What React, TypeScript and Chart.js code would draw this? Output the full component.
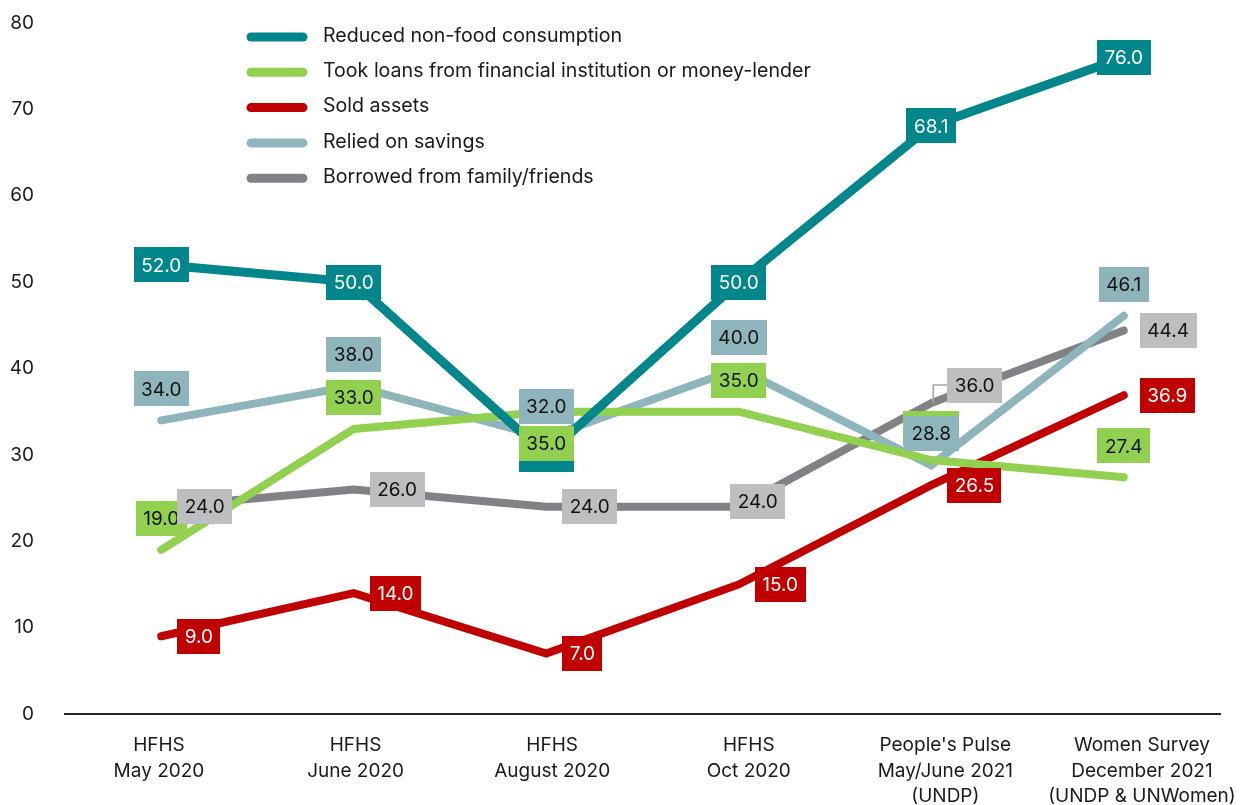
import React, { useEffect, useRef } from 'react';
import { Chart, registerables } from 'chart.js';

Chart.register(...registerables);

const FONT = 'Inter, Roboto, sans-serif';

const categories = [
  'HFHS May 2020',
  'HFHS June 2020',
  'HFHS August 2020',
  'HFHS Oct 2020',
  "People's Pulse May/June 2021 (UNDP)",
  'Women Survey December 2021 (UNDP & UNWomen)',
];

const categoryLabelLines = [
  ['HFHS', 'May 2020'],
  ['HFHS', 'June 2020'],
  ['HFHS', 'August 2020'],
  ['HFHS', 'Oct 2020'],
  ["People's Pulse", 'May/June 2021', '(UNDP)'],
  ['Women Survey', 'December 2021', '(UNDP & UNWomen)'],
];

const seriesNames = [
  'Reduced non-food consumption',
  'Took loans from financial institution or money-lender',
  'Sold assets',
  'Relied on savings',
  'Borrowed from family/friends',
];

const reducedNonFood = [52.0, 50.0, 30.0, 50.0, 68.1, 76.0];
const tookLoans = [19.0, 33.0, 35.0, 35.0, 29.4, 27.4];
const soldAssets = [9.0, 14.0, 7.0, 15.0, 26.5, 36.9];
const reliedSavings = [34.0, 38.0, 32.0, 40.0, 28.8, 46.1];
const borrowedFamily = [24.0, 26.0, 24.0, 24.0, 36.0, 44.4];

const yTicks = [0, 10, 20, 30, 40, 50, 60, 70, 80];

const seriesData = [reducedNonFood, tookLoans, soldAssets, reliedSavings, borrowedFamily];
const lineColors = ['#00868b', '#92d050', '#c00000', '#8fb5bc', '#808285'];
const labelBg = ['#00868b', '#92d050', '#c00000', '#8fb5bc', '#bcbec0'];
const labelFg = ['#ffffff', '#111111', '#ffffff', '#111111', '#111111'];
// 'covered' = label box drawn but its text sits under another label
const labelPlacement = [
  ['center', 'center', 'covered', 'center', 'center', 'center'],
  ['above', 'above', 'below', 'above', 'above', 'above'],
  ['right', 'right', 'right', 'right', 'right', 'right'],
  ['above', 'above', 'above', 'above', 'above', 'above'],
  ['right', 'right', 'right', 'shift', 'leader', 'right'],
];

const boxLabelPlugin = {
  id: 'boxLabels',
  afterDatasetsDraw(chart: any) {
    const ctx = chart.ctx;
    ctx.save();
    ctx.font = `19px ${FONT}`;
    ctx.textAlign = 'center';
    ctx.textBaseline = 'middle';
    chart.data.datasets.forEach((ds: any, di: number) => {
      const meta = chart.getDatasetMeta(di);
      meta.data.forEach((pt: any, i: number) => {
        const v = ds.data[i] as number;
        const text = v.toFixed(1);
        const tw = ctx.measureText(text).width;
        const w = tw + 15;
        const h = 35;
        const place = labelPlacement[di][i];
        let cx = pt.x;
        let cy = pt.y;
        if (place === 'above') cy -= 31.5;
        else if (place === 'below') cy += 32;
        else if (place === 'right') cx += 16 + w / 2;
        else if (place === 'shift') {
          cx += 19;
          cy -= 5;
        } else if (place === 'leader') {
          cx += 16 + w / 2;
          cy -= 18;
          ctx.strokeStyle = '#a6a6a6';
          ctx.lineWidth = 1.5;
          ctx.beginPath();
          ctx.moveTo(cx - w / 2, cy);
          ctx.lineTo(pt.x + 2, cy);
          ctx.lineTo(pt.x + 2, pt.y);
          ctx.stroke();
        }
        ctx.fillStyle = labelBg[di];
        ctx.fillRect(Math.round(cx - w / 2), Math.round(cy - h / 2), Math.round(w), h);
        if (place !== 'covered') {
          ctx.fillStyle = labelFg[di];
          ctx.fillText(text, cx, cy + 1);
        }
      });
    });
    ctx.restore();
  },
};

const legendPlugin = {
  id: 'customLegend',
  afterDraw(chart: any) {
    const ctx = chart.ctx;
    ctx.save();
    ctx.font = `19.6px ${FONT}`;
    ctx.textAlign = 'left';
    ctx.textBaseline = 'middle';
    chart.data.datasets.forEach((ds: any, i: number) => {
      const y = 36 + i * 35.3;
      ctx.strokeStyle = ds.borderColor;
      ctx.lineWidth = 9;
      ctx.lineCap = 'round';
      ctx.beginPath();
      ctx.moveTo(251, y + 1);
      ctx.lineTo(303, y + 1);
      ctx.stroke();
      ctx.fillStyle = '#1a1a1a';
      ctx.fillText(ds.label, 323, y);
    });
    ctx.restore();
  },
};

export default function App() {
  const ref = useRef<HTMLCanvasElement>(null);

  useEffect(() => {
    document.body.style.margin = '0';
    const canvas = ref.current;
    if (!canvas) return;
    const chart = new Chart(canvas, {
      type: 'line',
      data: {
        labels: categories,
        datasets: seriesNames.map((name, i) => ({
          label: name,
          data: seriesData[i],
          borderColor: lineColors[i],
          backgroundColor: lineColors[i],
          borderWidth: i === 0 ? 9 : 8,
          borderCapStyle: 'round',
          borderJoinStyle: 'miter',
          pointRadius: 0,
          pointHoverRadius: 0,
          tension: 0,
          fill: false,
        })),
      },
      options: {
        responsive: false,
        animation: false,
        devicePixelRatio: 1,
        events: [],
        layout: { padding: { top: 23, right: 22, bottom: 0, left: 0 } },
        plugins: {
          legend: { display: false },
          tooltip: { enabled: false },
        },
        scales: {
          x: {
            type: 'category',
            offset: true,
            position: 'bottom',
            weight: 0,
            grid: { display: false, drawTicks: false },
            border: { display: true, color: '#262626', width: 2 },
            ticks: { display: false },
            afterFit: (s: any) => {
              s.height = 0;
            },
          },
          xLabels: {
            type: 'linear',
            position: 'bottom',
            weight: 1,
            min: -0.478,
            max: 5.397,
            grid: { display: false, drawTicks: false },
            border: { display: false },
            afterBuildTicks: (s: any) => {
              s.ticks = categoryLabelLines.map((_, i) => ({ value: i }));
            },
            ticks: {
              autoSkip: false,
              maxRotation: 0,
              minRotation: 0,
              padding: 19,
              color: '#1a1a1a',
              font: { family: FONT, size: 19, lineHeight: 1.34 },
              callback: (v: any) => categoryLabelLines[v as number] ?? '',
            },
            afterFit: (s: any) => {
              s.height = 91;
              s.paddingLeft = 0;
              s.paddingRight = 0;
            },
          },
          y: {
            type: 'linear',
            min: 0,
            max: 80,
            grid: { display: false, drawTicks: false },
            border: { display: false },
            afterBuildTicks: (s: any) => {
              s.ticks = yTicks.map((v) => ({ value: v }));
            },
            ticks: {
              padding: 31,
              color: '#1a1a1a',
              font: { family: FONT, size: 19 },
            },
            afterFit: (s: any) => {
              s.width = 65;
              s.paddingTop = 0;
              s.paddingBottom = 0;
            },
          },
        },
      } as any,
      plugins: [boxLabelPlugin, legendPlugin],
    });
    return () => chart.destroy();
  }, []);

  return (
    <div style={{ width: 1242, height: 805 }}>
      <canvas ref={ref} width={1242} height={805} style={{ display: 'block' }} />
    </div>
  );
}
